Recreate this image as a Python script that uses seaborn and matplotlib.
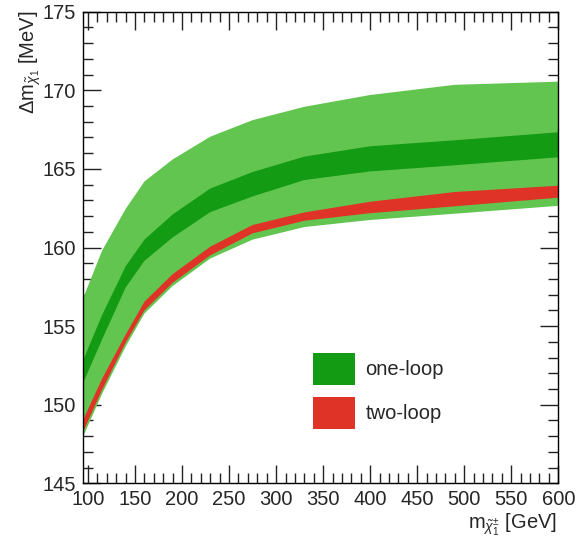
import numpy as np
import pandas as pd
import matplotlib
matplotlib.use("Agg")
import matplotlib.pyplot as plt
import seaborn as sns
from matplotlib.patches import Patch
from matplotlib.ticker import MultipleLocator

# ---------------- data ----------------
mass = [95, 115, 140, 160, 190, 230, 275, 330, 400, 490, 600]

one_loop_outer_hi = [156.8, 159.8, 162.45, 164.2, 165.6, 167.05, 168.1, 168.95, 169.7, 170.35, 170.55]
one_loop_outer_lo = [148.0, 150.7, 153.7, 155.8, 157.55, 159.3, 160.5, 161.3, 161.75, 162.15, 162.65]
one_loop_inner_hi = [152.85, 155.7, 158.8, 160.5, 162.1, 163.75, 164.8, 165.78, 166.44, 166.82, 167.33]
one_loop_inner_lo = [151.4, 154.15, 157.45, 159.15, 160.64, 162.25, 163.25, 164.29, 164.84, 165.23, 165.74]
two_loop_hi = [149.05, 151.65, 154.45, 156.55, 158.3, 160.05, 161.43, 162.23, 162.91, 163.53, 163.93]
two_loop_lo = [148.3, 150.95, 153.95, 156.0, 157.75, 159.5, 160.9, 161.7, 162.18, 162.62, 163.17]

labels = ["one-loop", "two-loop"]
x_ticks_major, x_ticks_minor = 50, 10
y_ticks_major, y_ticks_minor = 5, 1

light_green = "#62c54f"
dark_green = "#139b13"
red = "#e03327"

FS = 14.5

# ---------------- style ----------------
sns.set_theme(style="ticks")
plt.rcParams["font.family"] = ["Liberation Sans", "DejaVu Sans"]
plt.rcParams["mathtext.fontset"] = "custom"
plt.rcParams["mathtext.rm"] = "Liberation Sans"
plt.rcParams["mathtext.it"] = "Liberation Sans:italic"
plt.rcParams["mathtext.bf"] = "Liberation Sans:bold"

fig = plt.figure(figsize=(5.8, 5.52), dpi=100)
ax = fig.add_axes([83.3 / 580, 1 - 483.3 / 552, (558.3 - 83.3) / 580, (483.3 - 11.7) / 552])


def band_frame(lo, hi):
    return pd.DataFrame({"m": list(mass) + list(mass), "dm": list(lo) + list(hi)})


for lo, hi, col in [
    (one_loop_outer_lo, one_loop_outer_hi, light_green),
    (one_loop_inner_lo, one_loop_inner_hi, dark_green),
    (two_loop_lo, two_loop_hi, red),
]:
    sns.lineplot(
        data=band_frame(lo, hi), x="m", y="dm", ax=ax, color=col,
        linewidth=0, errorbar=("pi", 100),
        err_kws={"alpha": 1, "linewidth": 0, "edgecolor": "none"},
        legend=False,
    )

ax.set_xlim(95, 600)
ax.set_ylim(145, 175)
ax.set_xlabel("")
ax.set_ylabel("")

ax.xaxis.set_major_locator(MultipleLocator(x_ticks_major))
ax.xaxis.set_minor_locator(MultipleLocator(x_ticks_minor))
ax.yaxis.set_major_locator(MultipleLocator(y_ticks_major))
ax.yaxis.set_minor_locator(MultipleLocator(y_ticks_minor))
ax.tick_params(which="both", direction="in", top=True, right=True,
               width=1, color="#222222")
ax.tick_params(which="major", length=13, labelsize=FS, pad=5)
ax.tick_params(which="minor", length=7)
for s in ax.spines.values():
    s.set_linewidth(1)
    s.set_color("black")
    s.set_visible(True)

# axis titles (ROOT style: aligned at axis ends)
fig.text(30 / 580, 1 - 11 / 552, r"$\Delta\mathrm{m}_{\tilde{\chi}_{1}}$ [MeV]",
         rotation=90, ha="center", va="top", fontsize=FS)
fig.text(557 / 580, 1 - 512 / 552, r"$\mathrm{m}_{\tilde{\chi}^{\pm}_{1}}$ [GeV]",
         ha="right", va="top", fontsize=FS)

handles = [Patch(facecolor=dark_green, edgecolor="none"),
           Patch(facecolor=red, edgecolor="none")]
fig.legend(handles=handles, labels=labels, loc="upper left",
           bbox_to_anchor=(313 / 580, 1 - 353 / 552), frameon=False,
           fontsize=FS, handlelength=2.1, handleheight=2.07,
           labelspacing=0.6, handletextpad=0.5, borderpad=0, borderaxespad=0)

fig.savefig("out.png", dpi=100)
